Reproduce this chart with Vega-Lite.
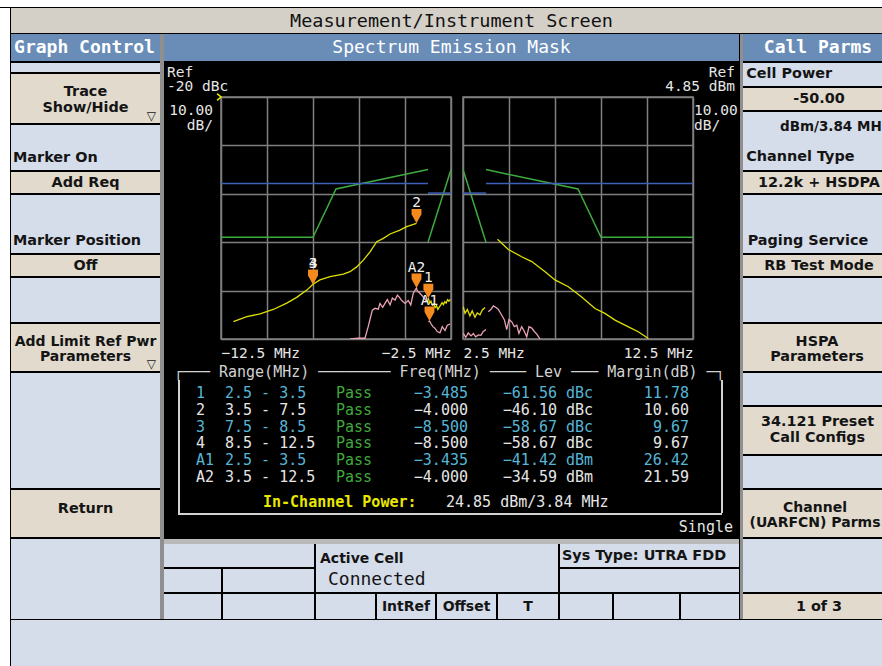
{
"$schema": "https://vega.github.io/schema/vega-lite/v6.json",
"background": "#000000",
"padding": 0,
"spacing": 1,
"config": {
  "view": {"stroke": null},
  "text": {"font": "DejaVu Sans", "fontWeight": "bold", "fontSize": 14.4, "color": "#141414", "baseline": "middle", "lineBreak": "\n"},
  "axis": {"ticks": false, "domain": false, "grid": true, "gridColor": "#7f7f7f", "gridWidth": 1.5, "labelFont": "DejaVu Sans Mono", "labelFontSize": 14.5, "labelColor": "#e6e6e6", "labelPadding": 7, "labelOverlap": false, "labelFlush": true, "title": null}
},
"datasets": {
  "results": [
    {"id": "1", "range": "2.5 - 3.5", "result": "Pass", "freq": -3.485, "lev": -61.56, "unit": "dBc", "margin": 11.78},
    {"id": "2", "range": "3.5 - 7.5", "result": "Pass", "freq": -4.0, "lev": -46.1, "unit": "dBc", "margin": 10.6},
    {"id": "3", "range": "7.5 - 8.5", "result": "Pass", "freq": -8.5, "lev": -58.67, "unit": "dBc", "margin": 9.67},
    {"id": "4", "range": "8.5 - 12.5", "result": "Pass", "freq": -8.5, "lev": -58.67, "unit": "dBc", "margin": 9.67},
    {"id": "A1", "range": "2.5 - 3.5", "result": "Pass", "freq": -3.435, "lev": -41.42, "unit": "dBm", "margin": 26.42},
    {"id": "A2", "range": "3.5 - 12.5", "result": "Pass", "freq": -4.0, "lev": -34.59, "unit": "dBm", "margin": 21.59}
  ],
  "relMask": [
    {"side": "lower", "seg": 1, "f": -12.5, "dBc": -49}, {"side": "lower", "seg": 1, "f": -8.5, "dBc": -49},
    {"side": "lower", "seg": 1, "f": -7.5, "dBc": -39}, {"side": "lower", "seg": 1, "f": -3.5, "dBc": -35},
    {"side": "lower", "seg": 2, "f": -3.5, "dBc": -50}, {"side": "lower", "seg": 2, "f": -2.5, "dBc": -35},
    {"side": "upper", "seg": 1, "f": 2.5, "dBc": -35}, {"side": "upper", "seg": 1, "f": 3.5, "dBc": -50},
    {"side": "upper", "seg": 2, "f": 3.5, "dBc": -35}, {"side": "upper", "seg": 2, "f": 7.5, "dBc": -39},
    {"side": "upper", "seg": 2, "f": 8.5, "dBc": -49}, {"side": "upper", "seg": 2, "f": 12.5, "dBc": -49}
  ],
  "absMask": [
    {"side": "lower", "seg": 1, "f": -12.5, "dBm": -13}, {"side": "lower", "seg": 1, "f": -3.5, "dBm": -13},
    {"side": "lower", "seg": 2, "f": -3.5, "dBm": -15}, {"side": "lower", "seg": 2, "f": -2.5, "dBm": -15},
    {"side": "upper", "seg": 1, "f": 2.5, "dBm": -15}, {"side": "upper", "seg": 1, "f": 3.5, "dBm": -15},
    {"side": "upper", "seg": 2, "f": 3.5, "dBm": -13}, {"side": "upper", "seg": 2, "f": 12.5, "dBm": -13}
  ],
  "relTrace": [
    {"side": "lower", "seg": 1, "f": -11.96, "dBc": -66.4}, {"side": "lower", "seg": 1, "f": -11.38, "dBc": -65.4},
    {"side": "lower", "seg": 1, "f": -10.8, "dBc": -64.8}, {"side": "lower", "seg": 1, "f": -10.23, "dBc": -63.9},
    {"side": "lower", "seg": 1, "f": -9.64, "dBc": -62.6}, {"side": "lower", "seg": 1, "f": -9.21, "dBc": -61.4},
    {"side": "lower", "seg": 1, "f": -8.77, "dBc": -59.9}, {"side": "lower", "seg": 1, "f": -8.5, "dBc": -58.67},
    {"side": "lower", "seg": 1, "f": -8.2, "dBc": -57.8}, {"side": "lower", "seg": 1, "f": -7.76, "dBc": -57.1},
    {"side": "lower", "seg": 1, "f": -7.18, "dBc": -56.6}, {"side": "lower", "seg": 1, "f": -6.89, "dBc": -56.1},
    {"side": "lower", "seg": 1, "f": -6.6, "dBc": -55.1}, {"side": "lower", "seg": 1, "f": -6.31, "dBc": -53.7},
    {"side": "lower", "seg": 1, "f": -6.02, "dBc": -52.0}, {"side": "lower", "seg": 1, "f": -5.73, "dBc": -49.9},
    {"side": "lower", "seg": 1, "f": -5.44, "dBc": -49.2}, {"side": "lower", "seg": 1, "f": -5.15, "dBc": -48.3},
    {"side": "lower", "seg": 1, "f": -4.72, "dBc": -47.5}, {"side": "lower", "seg": 1, "f": -4.43, "dBc": -46.8},
    {"side": "lower", "seg": 1, "f": -4.0, "dBc": -46.1},
    {"side": "lower", "seg": 2, "f": -3.485, "dBc": -61.56}, {"side": "lower", "seg": 2, "f": -3.43, "dBc": -62.6},
    {"side": "lower", "seg": 2, "f": -3.37, "dBc": -62.2}, {"side": "lower", "seg": 2, "f": -3.31, "dBc": -63.0},
    {"side": "lower", "seg": 2, "f": -3.25, "dBc": -62.8}, {"side": "lower", "seg": 2, "f": -3.19, "dBc": -63.5},
    {"side": "lower", "seg": 2, "f": -3.13, "dBc": -63.1}, {"side": "lower", "seg": 2, "f": -3.07, "dBc": -63.9},
    {"side": "lower", "seg": 2, "f": -3.01, "dBc": -63.4}, {"side": "lower", "seg": 2, "f": -2.95, "dBc": -63.0},
    {"side": "lower", "seg": 2, "f": -2.89, "dBc": -62.5}, {"side": "lower", "seg": 2, "f": -2.83, "dBc": -62.9},
    {"side": "lower", "seg": 2, "f": -2.77, "dBc": -62.3}, {"side": "lower", "seg": 2, "f": -2.71, "dBc": -62.6},
    {"side": "lower", "seg": 2, "f": -2.65, "dBc": -61.9}, {"side": "lower", "seg": 2, "f": -2.59, "dBc": -62.2},
    {"side": "lower", "seg": 2, "f": -2.53, "dBc": -61.8},
    {"side": "upper", "seg": 1, "f": 2.51, "dBc": -63.3}, {"side": "upper", "seg": 1, "f": 2.59, "dBc": -64.7},
    {"side": "upper", "seg": 1, "f": 2.69, "dBc": -63.9}, {"side": "upper", "seg": 1, "f": 2.8, "dBc": -65.2},
    {"side": "upper", "seg": 1, "f": 2.9, "dBc": -64.2}, {"side": "upper", "seg": 1, "f": 3.02, "dBc": -65.5},
    {"side": "upper", "seg": 1, "f": 3.12, "dBc": -64.6}, {"side": "upper", "seg": 1, "f": 3.24, "dBc": -65.0},
    {"side": "upper", "seg": 1, "f": 3.34, "dBc": -64.0}, {"side": "upper", "seg": 1, "f": 3.46, "dBc": -63.5},
    {"side": "upper", "seg": 2, "f": 4.0, "dBc": -49.4}, {"side": "upper", "seg": 2, "f": 4.47, "dBc": -51.5},
    {"side": "upper", "seg": 2, "f": 5.05, "dBc": -53.0}, {"side": "upper", "seg": 2, "f": 5.49, "dBc": -54.0},
    {"side": "upper", "seg": 2, "f": 6.07, "dBc": -56.1}, {"side": "upper", "seg": 2, "f": 6.5, "dBc": -57.8},
    {"side": "upper", "seg": 2, "f": 7.08, "dBc": -59.2}, {"side": "upper", "seg": 2, "f": 7.66, "dBc": -61.3},
    {"side": "upper", "seg": 2, "f": 8.24, "dBc": -63.7}, {"side": "upper", "seg": 2, "f": 8.67, "dBc": -64.7},
    {"side": "upper", "seg": 2, "f": 9.11, "dBc": -66.1}, {"side": "upper", "seg": 2, "f": 9.69, "dBc": -67.5},
    {"side": "upper", "seg": 2, "f": 10.12, "dBc": -68.5}, {"side": "upper", "seg": 2, "f": 10.56, "dBc": -69.9}
  ],
  "absTrace": [
    {"side": "lower", "seg": 1, "f": -6.89, "dBm": -45.15}, {"side": "lower", "seg": 1, "f": -6.53, "dBm": -45.0},
    {"side": "lower", "seg": 1, "f": -6.24, "dBm": -45.0}, {"side": "lower", "seg": 1, "f": -6.1, "dBm": -42.6},
    {"side": "lower", "seg": 1, "f": -5.99, "dBm": -40.5}, {"side": "lower", "seg": 1, "f": -5.92, "dBm": -39.2},
    {"side": "lower", "seg": 1, "f": -5.8, "dBm": -38.8}, {"side": "lower", "seg": 1, "f": -5.66, "dBm": -39.0},
    {"side": "lower", "seg": 1, "f": -5.59, "dBm": -37.8}, {"side": "lower", "seg": 1, "f": -5.47, "dBm": -38.6},
    {"side": "lower", "seg": 1, "f": -5.37, "dBm": -37.8}, {"side": "lower", "seg": 1, "f": -5.27, "dBm": -37.0},
    {"side": "lower", "seg": 1, "f": -5.15, "dBm": -38.1}, {"side": "lower", "seg": 1, "f": -5.05, "dBm": -36.7},
    {"side": "lower", "seg": 1, "f": -4.93, "dBm": -37.1}, {"side": "lower", "seg": 1, "f": -4.83, "dBm": -36.1},
    {"side": "lower", "seg": 1, "f": -4.75, "dBm": -36.5}, {"side": "lower", "seg": 1, "f": -4.64, "dBm": -37.2},
    {"side": "lower", "seg": 1, "f": -4.5, "dBm": -37.8}, {"side": "lower", "seg": 1, "f": -4.36, "dBm": -37.2},
    {"side": "lower", "seg": 1, "f": -4.25, "dBm": -38.1}, {"side": "lower", "seg": 1, "f": -4.14, "dBm": -35.7},
    {"side": "lower", "seg": 1, "f": -4.0, "dBm": -34.59}, {"side": "lower", "seg": 1, "f": -3.97, "dBm": -35.2},
    {"side": "lower", "seg": 1, "f": -3.85, "dBm": -35.7}, {"side": "lower", "seg": 1, "f": -3.7, "dBm": -36.5},
    {"side": "lower", "seg": 1, "f": -3.55, "dBm": -37.4},
    {"side": "lower", "seg": 2, "f": -3.48, "dBm": -41.6}, {"side": "lower", "seg": 2, "f": -3.435, "dBm": -41.42},
    {"side": "lower", "seg": 2, "f": -3.38, "dBm": -41.9}, {"side": "lower", "seg": 2, "f": -3.29, "dBm": -42.6},
    {"side": "lower", "seg": 2, "f": -3.2, "dBm": -42.9}, {"side": "lower", "seg": 2, "f": -3.1, "dBm": -43.6},
    {"side": "lower", "seg": 2, "f": -2.98, "dBm": -43.9}, {"side": "lower", "seg": 2, "f": -2.88, "dBm": -42.6},
    {"side": "lower", "seg": 2, "f": -2.76, "dBm": -43.4}, {"side": "lower", "seg": 2, "f": -2.66, "dBm": -42.3},
    {"side": "lower", "seg": 2, "f": -2.54, "dBm": -42.1},
    {"side": "upper", "seg": 1, "f": 2.51, "dBm": -44.0}, {"side": "upper", "seg": 1, "f": 2.62, "dBm": -44.8},
    {"side": "upper", "seg": 1, "f": 2.73, "dBm": -43.9}, {"side": "upper", "seg": 1, "f": 2.85, "dBm": -44.5},
    {"side": "upper", "seg": 1, "f": 2.95, "dBm": -44.0}, {"side": "upper", "seg": 1, "f": 3.05, "dBm": -44.7},
    {"side": "upper", "seg": 1, "f": 3.17, "dBm": -44.3}, {"side": "upper", "seg": 1, "f": 3.28, "dBm": -44.4},
    {"side": "upper", "seg": 1, "f": 3.38, "dBm": -43.6}, {"side": "upper", "seg": 1, "f": 3.5, "dBm": -43.2},
    {"side": "upper", "seg": 2, "f": 3.6, "dBm": -39.5}, {"side": "upper", "seg": 2, "f": 3.72, "dBm": -39.0},
    {"side": "upper", "seg": 2, "f": 3.82, "dBm": -38.3}, {"side": "upper", "seg": 2, "f": 3.92, "dBm": -38.6},
    {"side": "upper", "seg": 2, "f": 4.03, "dBm": -39.0}, {"side": "upper", "seg": 2, "f": 4.18, "dBm": -40.2},
    {"side": "upper", "seg": 2, "f": 4.3, "dBm": -41.2}, {"side": "upper", "seg": 2, "f": 4.4, "dBm": -43.2},
    {"side": "upper", "seg": 2, "f": 4.5, "dBm": -41.1}, {"side": "upper", "seg": 2, "f": 4.62, "dBm": -41.6},
    {"side": "upper", "seg": 2, "f": 4.73, "dBm": -42.6}, {"side": "upper", "seg": 2, "f": 4.84, "dBm": -42.3},
    {"side": "upper", "seg": 2, "f": 4.93, "dBm": -44.0}, {"side": "upper", "seg": 2, "f": 5.05, "dBm": -42.6},
    {"side": "upper", "seg": 2, "f": 5.17, "dBm": -43.6}, {"side": "upper", "seg": 2, "f": 5.27, "dBm": -44.7},
    {"side": "upper", "seg": 2, "f": 5.37, "dBm": -42.6}, {"side": "upper", "seg": 2, "f": 5.49, "dBm": -42.9},
    {"side": "upper", "seg": 2, "f": 5.6, "dBm": -43.6}, {"side": "upper", "seg": 2, "f": 5.7, "dBm": -44.1},
    {"side": "upper", "seg": 2, "f": 5.85, "dBm": -45.15}
  ]
},
"vconcat": [
  {"width": 882, "height": 7, "view": {"fill": "#ffffff"}, "data": {"values": []}, "mark": "text"},
  {"spacing": 1, "hconcat": [
    {"width": 10, "height": 658, "view": {"fill": "#ffffff"}, "data": {"values": []}, "mark": "text"},
    {"spacing": 1, "vconcat": [
      {"width": 871, "height": 25, "view": {"fill": "#d4d0c8"},
       "data": {"values": [{"label": "Measurement/Instrument Screen"}]},
       "mark": {"type": "text", "font": "DejaVu Sans Mono", "fontWeight": "normal", "fontSize": 18.5, "color": "#111111", "dx": 5},
       "encoding": {"text": {"field": "label"}}},
      {"spacing": 0, "hconcat": [
        {"spacing": 2, "vconcat": [
          {"width": 149, "height": 27, "view": {"fill": "#6a8db8"},
           "data": {"values": [{"label": "Graph Control"}]},
           "mark": {"type": "text", "font": "DejaVu Sans Mono", "fontSize": 18, "color": "#ffffff", "dx": -1},
           "encoding": {"text": {"field": "label"}}},
          {"width": 149, "height": 9, "view": {"fill": "#d5dcea"}, "data": {"values": []}, "mark": "text"},
          {"width": 149, "height": 49, "view": {"fill": "#e1dacd"},
           "layer": [
             {"data": {"values": [{"label": "Trace\nShow/Hide"}]}, "mark": {"type": "text", "lineHeight": 16.6, "dy": -6.8}, "encoding": {"text": {"field": "label"}}},
             {"data": {"values": [{"glyph": "▽"}]}, "mark": {"type": "text", "align": "right", "fontWeight": "normal", "fontSize": 12, "dx": -4, "dy": 17.5},
              "encoding": {"x": {"datum": 1, "type": "quantitative", "scale": {"domain": [0, 1]}, "axis": null}, "text": {"field": "glyph"}}}
           ]},
          {"width": 149, "height": 45, "view": {"fill": "#d5dcea"},
           "data": {"values": [{"label": "Marker On"}]},
           "mark": {"type": "text", "align": "left", "dx": 2, "dy": 10.5},
           "encoding": {"x": {"datum": 0, "type": "quantitative", "scale": {"domain": [0, 1]}, "axis": null}, "text": {"field": "label"}}},
          {"width": 149, "height": 21, "view": {"fill": "#e1dacd"},
           "data": {"values": [{"label": "Add Req"}]}, "mark": {"type": "text", "dy": 0.5}, "encoding": {"text": {"field": "label"}}},
          {"width": 149, "height": 58, "view": {"fill": "#d5dcea"},
           "data": {"values": [{"label": "Marker Position"}]},
           "mark": {"type": "text", "align": "left", "dx": 2, "dy": 16.7},
           "encoding": {"x": {"datum": 0, "type": "quantitative", "scale": {"domain": [0, 1]}, "axis": null}, "text": {"field": "label"}}},
          {"width": 149, "height": 21, "view": {"fill": "#e1dacd"},
           "data": {"values": [{"label": "Off"}]}, "mark": {"type": "text"}, "encoding": {"text": {"field": "label"}}},
          {"width": 149, "height": 44, "view": {"fill": "#d5dcea"}, "data": {"values": []}, "mark": "text"},
          {"width": 149, "height": 47, "view": {"fill": "#e1dacd"},
           "layer": [
             {"data": {"values": [{"label": "Add Limit Ref Pwr\nParameters"}]}, "mark": {"type": "text", "fontSize": 14, "lineHeight": 15.6, "dy": -5.8}, "encoding": {"text": {"field": "label"}}},
             {"data": {"values": [{"glyph": "▽"}]}, "mark": {"type": "text", "align": "right", "fontWeight": "normal", "fontSize": 12, "dx": -4, "dy": 16},
              "encoding": {"x": {"datum": 1, "type": "quantitative", "scale": {"domain": [0, 1]}, "axis": null}, "text": {"field": "glyph"}}}
           ]},
          {"width": 149, "height": 115, "view": {"fill": "#d5dcea"}, "data": {"values": []}, "mark": "text"},
          {"width": 149, "height": 47, "view": {"fill": "#e1dacd"},
           "data": {"values": [{"label": "Return"}]}, "mark": {"type": "text", "dy": -5}, "encoding": {"text": {"field": "label"}}},
          {"width": 149, "height": 80, "view": {"fill": "#d5dcea"}, "data": {"values": []}, "mark": "text"}
        ]},
        {"width": 4, "height": 585, "view": {"fill": "#8f8f8f"}, "data": {"values": []}, "mark": "text"},
        {"spacing": 0, "vconcat": [
          {"width": 575, "height": 27, "view": {"fill": "#6a8db8"},
           "data": {"values": [{"label": "Spectrum Emission Mask"}]},
           "mark": {"type": "text", "font": "DejaVu Sans Mono", "fontWeight": "normal", "fontSize": 18, "color": "#ffffff"},
           "encoding": {"text": {"field": "label"}}},
          {"columns": 5, "spacing": 0, "bounds": "flush", "concat": [
            {"width": 57, "height": 36, "data": {"values": [{"label": "Ref\n-20 dBc"}]},
             "mark": {"type": "text", "align": "left", "font": "DejaVu Sans Mono", "fontWeight": "normal", "fontSize": 14.5, "color": "#e6e6e6", "lineHeight": 14.5, "dx": 3, "dy": -6.5},
             "encoding": {"x": {"datum": 0, "type": "quantitative", "scale": {"domain": [0, 1]}, "axis": null}, "text": {"field": "label"}}},
            {"width": 230, "height": 36, "data": {"values": []}, "mark": "text"},
            {"width": 12, "height": 36, "data": {"values": []}, "mark": "text"},
            {"width": 230, "height": 36, "data": {"values": []}, "mark": "text"},
            {"width": 46, "height": 36, "data": {"values": [{"label": "Ref\n4.85 dBm"}]},
             "mark": {"type": "text", "align": "right", "font": "DejaVu Sans Mono", "fontWeight": "normal", "fontSize": 14.5, "color": "#e6e6e6", "lineHeight": 14.5, "dx": -4, "dy": -6.5},
             "encoding": {"x": {"datum": 1, "type": "quantitative", "scale": {"domain": [0, 1]}, "axis": null}, "text": {"field": "label"}}},
            {"width": 57, "height": 242, "data": {"values": [{"label": "10.00\ndB/"}]},
             "mark": {"type": "text", "align": "right", "baseline": "top", "font": "DejaVu Sans Mono", "fontWeight": "normal", "fontSize": 14.5, "color": "#e6e6e6", "lineHeight": 15, "dx": -8, "dy": 7},
             "encoding": {"x": {"datum": 1, "type": "quantitative", "scale": {"domain": [0, 1]}, "axis": null},
                          "y": {"datum": 1, "type": "quantitative", "scale": {"domain": [0, 1]}, "axis": null},
                          "text": {"field": "label"}}},
            {"width": 230, "height": 242, "view": {"stroke": "#7f7f7f", "strokeWidth": 1.5},
             "resolve": {"scale": {"y": "independent"}},
             "layer": [
               {"layer": [
                 {"data": {"name": "relMask"}, "transform": [{"filter": "datum.side == 'lower'"}],
                  "mark": {"type": "line", "color": "#3fab3f", "strokeWidth": 1.5, "clip": true},
                  "encoding": {
                    "x": {"field": "f", "type": "quantitative", "scale": {"domain": [-12.5, -2.5], "nice": false},
                          "axis": {"values": [-12.5, -10.5, -8.5, -6.5, -4.5, -2.5], "labelExpr": "datum.value == -12.5 || datum.value == -2.5 ? format(datum.value, '.1f') + ' MHz' : ''"}},
                    "y": {"field": "dBc", "type": "quantitative", "scale": {"domain": [-70, -20], "nice": false},
                          "axis": {"values": [-70, -60, -50, -40, -30, -20], "labels": false}},
                    "detail": {"field": "seg"}}},
                 {"data": {"name": "relTrace"}, "transform": [{"filter": "datum.side == 'lower'"}],
                  "mark": {"type": "line", "color": "#e0e000", "strokeWidth": 1.3, "clip": true},
                  "encoding": {"x": {"field": "f", "type": "quantitative"}, "y": {"field": "dBc", "type": "quantitative"}, "detail": {"field": "seg"}}},
                 {"data": {"name": "results"}, "transform": [{"filter": "datum.unit == 'dBc'"}],
                  "mark": {"type": "point", "shape": "M-0.55,-1.6L0.55,-1.6L0.55,-1L0,0L-0.55,-1Z", "size": 324, "filled": true, "color": "#f58b1f", "opacity": 1},
                  "encoding": {"x": {"field": "freq", "type": "quantitative"}, "y": {"field": "lev", "type": "quantitative"}}},
                 {"data": {"name": "results"}, "transform": [{"filter": "datum.unit == 'dBc'"}],
                  "mark": {"type": "text", "font": "DejaVu Sans Mono", "fontWeight": "normal", "fontSize": 14.5, "color": "#f0f0f0", "dy": -20},
                  "encoding": {"x": {"field": "freq", "type": "quantitative"}, "y": {"field": "lev", "type": "quantitative"}, "text": {"field": "id"}}},
                 {"data": {"values": [{"f": -12.5, "ref": -20}]},
                  "mark": {"type": "point", "shape": "M-1.3,-1.1L0,0L-1.3,1.1", "size": 36, "filled": false, "color": "#e6e600", "strokeWidth": 1.6, "opacity": 1},
                  "encoding": {"x": {"field": "f", "type": "quantitative"}, "y": {"field": "ref", "type": "quantitative"}}}
               ]},
               {"layer": [
                 {"data": {"name": "absMask"}, "transform": [{"filter": "datum.side == 'lower'"}],
                  "mark": {"type": "line", "color": "#3d60b8", "strokeWidth": 1.5, "clip": true},
                  "encoding": {"x": {"field": "f", "type": "quantitative"}, "y": {"field": "dBm", "type": "quantitative", "scale": {"domain": [-45.15, 4.85], "nice": false}, "axis": null}, "detail": {"field": "seg"}}},
                 {"data": {"name": "absTrace"}, "transform": [{"filter": "datum.side == 'lower'"}],
                  "mark": {"type": "line", "color": "#eaa2b4", "strokeWidth": 1.3, "clip": true},
                  "encoding": {"x": {"field": "f", "type": "quantitative"}, "y": {"field": "dBm", "type": "quantitative", "axis": null}, "detail": {"field": "seg"}}},
                 {"data": {"name": "results"}, "transform": [{"filter": "datum.unit == 'dBm'"}],
                  "mark": {"type": "point", "shape": "M-0.55,-1.6L0.55,-1.6L0.55,-1L0,0L-0.55,-1Z", "size": 324, "filled": true, "color": "#f58b1f", "opacity": 1},
                  "encoding": {"x": {"field": "freq", "type": "quantitative"}, "y": {"field": "lev", "type": "quantitative", "axis": null}}},
                 {"data": {"name": "results"}, "transform": [{"filter": "datum.unit == 'dBm'"}],
                  "mark": {"type": "text", "font": "DejaVu Sans Mono", "fontWeight": "normal", "fontSize": 14.5, "color": "#f0f0f0", "dy": -20},
                  "encoding": {"x": {"field": "freq", "type": "quantitative"}, "y": {"field": "lev", "type": "quantitative", "axis": null}, "text": {"field": "id"}}}
               ]}
             ]},
            {"width": 12, "height": 242, "data": {"values": []}, "mark": "text"},
            {"width": 230, "height": 242, "view": {"stroke": "#7f7f7f", "strokeWidth": 1.5},
             "resolve": {"scale": {"y": "independent"}},
             "layer": [
               {"layer": [
                 {"data": {"name": "relMask"}, "transform": [{"filter": "datum.side == 'upper'"}],
                  "mark": {"type": "line", "color": "#3fab3f", "strokeWidth": 1.5, "clip": true},
                  "encoding": {
                    "x": {"field": "f", "type": "quantitative", "scale": {"domain": [2.5, 12.5], "nice": false},
                          "axis": {"values": [2.5, 4.5, 6.5, 8.5, 10.5, 12.5], "labelExpr": "datum.value == 2.5 || datum.value == 12.5 ? format(datum.value, '.1f') + ' MHz' : ''"}},
                    "y": {"field": "dBc", "type": "quantitative", "scale": {"domain": [-70, -20], "nice": false},
                          "axis": {"orient": "right", "values": [-70, -60, -50, -40, -30, -20], "labels": false}},
                    "detail": {"field": "seg"}}},
                 {"data": {"name": "relTrace"}, "transform": [{"filter": "datum.side == 'upper'"}],
                  "mark": {"type": "line", "color": "#e0e000", "strokeWidth": 1.3, "clip": true},
                  "encoding": {"x": {"field": "f", "type": "quantitative"}, "y": {"field": "dBc", "type": "quantitative"}, "detail": {"field": "seg"}}}
               ]},
               {"layer": [
                 {"data": {"name": "absMask"}, "transform": [{"filter": "datum.side == 'upper'"}],
                  "mark": {"type": "line", "color": "#3d60b8", "strokeWidth": 1.5, "clip": true},
                  "encoding": {"x": {"field": "f", "type": "quantitative"}, "y": {"field": "dBm", "type": "quantitative", "scale": {"domain": [-45.15, 4.85], "nice": false}, "axis": null}, "detail": {"field": "seg"}}},
                 {"data": {"name": "absTrace"}, "transform": [{"filter": "datum.side == 'upper'"}],
                  "mark": {"type": "line", "color": "#eaa2b4", "strokeWidth": 1.3, "clip": true},
                  "encoding": {"x": {"field": "f", "type": "quantitative"}, "y": {"field": "dBm", "type": "quantitative", "axis": null}, "detail": {"field": "seg"}}}
               ]}
             ]},
            {"width": 46, "height": 242, "data": {"values": [{"label": "10.00\ndB/"}]},
             "mark": {"type": "text", "align": "left", "baseline": "top", "font": "DejaVu Sans Mono", "fontWeight": "normal", "fontSize": 14.5, "color": "#e6e6e6", "lineHeight": 15, "dx": 1, "dy": 7},
             "encoding": {"x": {"datum": 0, "type": "quantitative", "scale": {"domain": [0, 1]}, "axis": null},
                          "y": {"datum": 1, "type": "quantitative", "scale": {"domain": [0, 1]}, "axis": null},
                          "text": {"field": "label"}}},
            {"width": 57, "height": 25, "data": {"values": []}, "mark": "text"},
            {"width": 230, "height": 25, "data": {"values": []}, "mark": "text"},
            {"width": 12, "height": 25, "data": {"values": []}, "mark": "text"},
            {"width": 230, "height": 25, "data": {"values": []}, "mark": "text"},
            {"width": 46, "height": 25, "data": {"values": []}, "mark": "text"}
          ]},
          {"spacing": 0, "vconcat": [
            {"width": 575, "height": 16,
             "data": {"values": [{"label": "┌───\u00a0Range(MHz)\u00a0────────\u00a0Freq(MHz)\u00a0────\u00a0Lev\u00a0───\u00a0Margin(dB)\u00a0─┐"}]},
             "mark": {"type": "text", "align": "left", "font": "DejaVu Sans Mono", "fontWeight": "normal", "fontSize": 15, "color": "#d2d2d2", "dx": 9.8},
             "encoding": {"x": {"datum": 0, "type": "quantitative", "scale": {"domain": [0, 1]}, "axis": null}, "text": {"field": "label"}}},
            {"spacing": 0, "hconcat": [
              {"width": 14, "height": 133, "data": {"values": []}, "mark": "text"},
              {"width": 2, "height": 133, "view": {"fill": "#d2d2d2"}, "data": {"values": []}, "mark": "text"},
              {"spacing": 0, "vconcat": [
                {"spacing": 0, "hconcat": [
                  {"width": 16, "height": 110, "data": {"values": []}, "mark": "text"},
                  {"width": 29, "height": 110, "data": {"name": "results"},
                   "mark": {"type": "text", "align": "left", "font": "DejaVu Sans Mono", "fontWeight": "normal", "fontSize": 15},
                   "encoding": {"x": {"datum": 0, "type": "quantitative", "scale": {"domain": [0, 1]}, "axis": null},
                                "y": {"field": "id", "type": "nominal", "scale": {"type": "point", "domain": ["1", "2", "3", "4", "A1", "A2"], "padding": 0.8}, "axis": null},
                                "text": {"field": "id"},
                                "color": {"field": "id", "type": "nominal", "scale": {"domain": ["1", "2", "3", "4", "A1", "A2"], "range": ["#56b6d6", "#e6e6e6", "#56b6d6", "#e6e6e6", "#56b6d6", "#e6e6e6"]}, "legend": null}}},
                  {"width": 111, "height": 110, "data": {"name": "results"},
                   "mark": {"type": "text", "align": "left", "font": "DejaVu Sans Mono", "fontWeight": "normal", "fontSize": 15},
                   "encoding": {"x": {"datum": 0, "type": "quantitative", "scale": {"domain": [0, 1]}, "axis": null},
                                "y": {"field": "id", "type": "nominal", "scale": {"type": "point", "domain": ["1", "2", "3", "4", "A1", "A2"], "padding": 0.8}, "axis": null},
                                "text": {"field": "range"},
                                "color": {"field": "id", "type": "nominal", "scale": {"domain": ["1", "2", "3", "4", "A1", "A2"], "range": ["#56b6d6", "#e6e6e6", "#56b6d6", "#e6e6e6", "#56b6d6", "#e6e6e6"]}, "legend": null}}},
                  {"width": 77, "height": 110, "data": {"name": "results"},
                   "mark": {"type": "text", "align": "left", "font": "DejaVu Sans Mono", "fontWeight": "normal", "fontSize": 15, "color": "#3fa93a"},
                   "encoding": {"x": {"datum": 0, "type": "quantitative", "scale": {"domain": [0, 1]}, "axis": null},
                                "y": {"field": "id", "type": "nominal", "scale": {"type": "point", "domain": ["1", "2", "3", "4", "A1", "A2"], "padding": 0.8}, "axis": null},
                                "text": {"field": "result"}}},
                  {"width": 54, "height": 110, "data": {"name": "results"},
                   "mark": {"type": "text", "align": "right", "font": "DejaVu Sans Mono", "fontWeight": "normal", "fontSize": 15},
                   "encoding": {"x": {"datum": 1, "type": "quantitative", "scale": {"domain": [0, 1]}, "axis": null},
                                "y": {"field": "id", "type": "nominal", "scale": {"type": "point", "domain": ["1", "2", "3", "4", "A1", "A2"], "padding": 0.8}, "axis": null},
                                "text": {"field": "freq", "type": "quantitative", "format": ".3f"},
                                "color": {"field": "id", "type": "nominal", "scale": {"domain": ["1", "2", "3", "4", "A1", "A2"], "range": ["#56b6d6", "#e6e6e6", "#56b6d6", "#e6e6e6", "#56b6d6", "#e6e6e6"]}, "legend": null}}},
                  {"width": 125, "height": 110, "data": {"name": "results"},
                   "layer": [
                     {"mark": {"type": "text", "align": "right", "font": "DejaVu Sans Mono", "fontWeight": "normal", "fontSize": 15, "dx": -36},
                      "encoding": {"x": {"datum": 1, "type": "quantitative", "scale": {"domain": [0, 1]}, "axis": null},
                                   "y": {"field": "id", "type": "nominal", "scale": {"type": "point", "domain": ["1", "2", "3", "4", "A1", "A2"], "padding": 0.8}, "axis": null},
                                   "text": {"field": "lev", "type": "quantitative", "format": ".2f"},
                                   "color": {"field": "id", "type": "nominal", "scale": {"domain": ["1", "2", "3", "4", "A1", "A2"], "range": ["#56b6d6", "#e6e6e6", "#56b6d6", "#e6e6e6", "#56b6d6", "#e6e6e6"]}, "legend": null}}},
                     {"mark": {"type": "text", "align": "right", "font": "DejaVu Sans Mono", "fontWeight": "normal", "fontSize": 15},
                      "encoding": {"x": {"datum": 1, "type": "quantitative", "scale": {"domain": [0, 1]}, "axis": null},
                                   "y": {"field": "id", "type": "nominal", "scale": {"type": "point", "domain": ["1", "2", "3", "4", "A1", "A2"], "padding": 0.8}, "axis": null},
                                   "text": {"field": "unit"},
                                   "color": {"field": "id", "type": "nominal", "scale": {"domain": ["1", "2", "3", "4", "A1", "A2"], "range": ["#56b6d6", "#e6e6e6", "#56b6d6", "#e6e6e6", "#56b6d6", "#e6e6e6"]}, "legend": null}}}
                   ]},
                  {"width": 96, "height": 110, "data": {"name": "results"},
                   "mark": {"type": "text", "align": "right", "font": "DejaVu Sans Mono", "fontWeight": "normal", "fontSize": 15},
                   "encoding": {"x": {"datum": 1, "type": "quantitative", "scale": {"domain": [0, 1]}, "axis": null},
                                "y": {"field": "id", "type": "nominal", "scale": {"type": "point", "domain": ["1", "2", "3", "4", "A1", "A2"], "padding": 0.8}, "axis": null},
                                "text": {"field": "margin", "type": "quantitative", "format": ".2f"},
                                "color": {"field": "id", "type": "nominal", "scale": {"domain": ["1", "2", "3", "4", "A1", "A2"], "range": ["#56b6d6", "#e6e6e6", "#56b6d6", "#e6e6e6", "#56b6d6", "#e6e6e6"]}, "legend": null}}},
                  {"width": 32, "height": 110, "data": {"values": []}, "mark": "text"}
                ]},
                {"spacing": 0, "hconcat": [
                  {"width": 83, "height": 23, "data": {"values": []}, "mark": "text"},
                  {"width": 183, "height": 23, "data": {"values": [{"label": "In-Channel Power:"}]},
                   "mark": {"type": "text", "align": "left", "font": "DejaVu Sans Mono", "fontWeight": "bold", "fontSize": 15, "color": "#e8e800"},
                   "encoding": {"x": {"datum": 0, "type": "quantitative", "scale": {"domain": [0, 1]}, "axis": null}, "text": {"field": "label"}}},
                  {"width": 274, "height": 23, "data": {"values": [{"label": "24.85 dBm/3.84 MHz"}]},
                   "mark": {"type": "text", "align": "left", "font": "DejaVu Sans Mono", "fontWeight": "normal", "fontSize": 15, "color": "#e6e6e6"},
                   "encoding": {"x": {"datum": 0, "type": "quantitative", "scale": {"domain": [0, 1]}, "axis": null}, "text": {"field": "label"}}}
                ]}
              ]},
              {"width": 2, "height": 133, "view": {"fill": "#d2d2d2"}, "data": {"values": []}, "mark": "text"},
              {"width": 17, "height": 133, "data": {"values": []}, "mark": "text"}
            ]},
            {"spacing": 0, "hconcat": [
              {"width": 14, "height": 2, "data": {"values": []}, "mark": "text"},
              {"width": 544, "height": 2, "view": {"fill": "#d2d2d2"}, "data": {"values": []}, "mark": "text"},
              {"width": 17, "height": 2, "data": {"values": []}, "mark": "text"}
            ]},
            {"width": 575, "height": 24, "data": {"values": [{"label": "Single"}]},
             "mark": {"type": "text", "align": "right", "font": "DejaVu Sans Mono", "fontWeight": "normal", "fontSize": 15, "color": "#e6e6e6", "dx": -6},
             "encoding": {"x": {"datum": 1, "type": "quantitative", "scale": {"domain": [0, 1]}, "axis": null}, "text": {"field": "label"}}}
          ]},
          {"width": 575, "height": 5, "view": {"fill": "#b9b9b9"}, "data": {"values": []}, "mark": "text"},
          {"spacing": 2, "vconcat": [
            {"spacing": 2, "hconcat": [
              {"spacing": 2, "vconcat": [
                {"width": 150, "height": 23, "view": {"fill": "#d5dcea"}, "data": {"values": []}, "mark": "text"},
                {"spacing": 2, "hconcat": [
                  {"width": 57, "height": 23, "view": {"fill": "#d5dcea"}, "data": {"values": []}, "mark": "text"},
                  {"width": 91, "height": 23, "view": {"fill": "#d5dcea"}, "data": {"values": []}, "mark": "text"}
                ]}
              ]},
              {"width": 242, "height": 48, "view": {"fill": "#d5dcea"},
               "layer": [
                 {"data": {"values": [{"label": "Active Cell"}]}, "mark": {"type": "text", "align": "left", "fontSize": 14, "dx": 4, "dy": -8.7},
                  "encoding": {"x": {"datum": 0, "type": "quantitative", "scale": {"domain": [0, 1]}, "axis": null}, "text": {"field": "label"}}},
                 {"data": {"values": [{"label": "Connected"}]}, "mark": {"type": "text", "align": "left", "font": "DejaVu Sans Mono", "fontWeight": "normal", "fontSize": 18, "dx": 12, "dy": 12},
                  "encoding": {"x": {"datum": 0, "type": "quantitative", "scale": {"domain": [0, 1]}, "axis": null}, "text": {"field": "label"}}}
               ]},
              {"spacing": 2, "vconcat": [
                {"width": 179, "height": 23, "view": {"fill": "#d5dcea"},
                 "data": {"values": [{"label": "Sys Type: UTRA FDD"}]}, "mark": {"type": "text", "align": "left", "dx": 2},
                 "encoding": {"x": {"datum": 0, "type": "quantitative", "scale": {"domain": [0, 1]}, "axis": null}, "text": {"field": "label"}}},
                {"width": 179, "height": 23, "view": {"fill": "#d5dcea"}, "data": {"values": []}, "mark": "text"}
              ]}
            ]},
            {"spacing": 2, "hconcat": [
              {"width": 57, "height": 25, "view": {"fill": "#d5dcea"}, "data": {"values": []}, "mark": "text"},
              {"width": 91, "height": 25, "view": {"fill": "#d5dcea"}, "data": {"values": []}, "mark": "text"},
              {"width": 59, "height": 25, "view": {"fill": "#d5dcea"}, "data": {"values": []}, "mark": "text"},
              {"width": 58, "height": 25, "view": {"fill": "#d5dcea"}, "data": {"values": [{"label": "IntRef"}]}, "mark": {"type": "text", "fontSize": 14}, "encoding": {"text": {"field": "label"}}},
              {"width": 59, "height": 25, "view": {"fill": "#d5dcea"}, "data": {"values": [{"label": "Offset"}]}, "mark": {"type": "text", "fontSize": 14}, "encoding": {"text": {"field": "label"}}},
              {"width": 60, "height": 25, "view": {"fill": "#d5dcea"}, "data": {"values": [{"label": "T"}]}, "mark": {"type": "text", "fontSize": 14}, "encoding": {"text": {"field": "label"}}},
              {"width": 52, "height": 25, "view": {"fill": "#d5dcea"}, "data": {"values": []}, "mark": "text"},
              {"width": 65, "height": 25, "view": {"fill": "#d5dcea"}, "data": {"values": []}, "mark": "text"},
              {"width": 58, "height": 25, "view": {"fill": "#d5dcea"}, "data": {"values": []}, "mark": "text"}
            ]}
          ]}
        ]},
        {"width": 3, "height": 585, "view": {"fill": "#8f8f8f"}, "data": {"values": []}, "mark": "text"},
        {"spacing": 2, "vconcat": [
          {"width": 140, "height": 27, "view": {"fill": "#6a8db8"},
           "data": {"values": [{"label": "Call Parms"}]},
           "mark": {"type": "text", "font": "DejaVu Sans Mono", "fontSize": 18, "color": "#ffffff", "dx": 5},
           "encoding": {"text": {"field": "label"}}},
          {"width": 140, "height": 23, "view": {"fill": "#d5dcea"},
           "data": {"values": [{"label": "Cell Power"}]}, "mark": {"type": "text", "align": "left", "dx": 3.3, "dy": -0.5},
           "encoding": {"x": {"datum": 0, "type": "quantitative", "scale": {"domain": [0, 1]}, "axis": null}, "text": {"field": "label"}}},
          {"width": 140, "height": 22, "view": {"fill": "#e1dacd"},
           "data": {"values": [{"label": "-50.00"}]}, "mark": {"type": "text", "dx": 6}, "encoding": {"text": {"field": "label"}}},
          {"width": 140, "height": 58, "view": {"fill": "#d5dcea"},
           "layer": [
             {"data": {"values": [{"label": "dBm/3.84 MHz"}]}, "mark": {"type": "text", "align": "left", "fontSize": 13.5, "dx": 37, "dy": -14.3, "limit": 104, "ellipsis": "\u200b"},
              "encoding": {"x": {"datum": 0, "type": "quantitative", "scale": {"domain": [0, 1]}, "axis": null}, "text": {"field": "label"}}},
             {"data": {"values": [{"label": "Channel Type"}]}, "mark": {"type": "text", "align": "left", "dx": 3.3, "dy": 15.7},
              "encoding": {"x": {"datum": 0, "type": "quantitative", "scale": {"domain": [0, 1]}, "axis": null}, "text": {"field": "label"}}}
           ]},
          {"width": 140, "height": 21, "view": {"fill": "#e1dacd"},
           "data": {"values": [{"label": "12.2k + HSDPA"}]}, "mark": {"type": "text", "dx": 6, "dy": 0.5}, "encoding": {"text": {"field": "label"}}},
          {"width": 140, "height": 58, "view": {"fill": "#d5dcea"},
           "data": {"values": [{"label": "Paging Service"}]}, "mark": {"type": "text", "align": "left", "dx": 4.7, "dy": 16.7},
           "encoding": {"x": {"datum": 0, "type": "quantitative", "scale": {"domain": [0, 1]}, "axis": null}, "text": {"field": "label"}}},
          {"width": 140, "height": 21, "view": {"fill": "#e1dacd"},
           "data": {"values": [{"label": "RB Test Mode"}]}, "mark": {"type": "text", "dx": 6}, "encoding": {"text": {"field": "label"}}},
          {"width": 140, "height": 44, "view": {"fill": "#d5dcea"}, "data": {"values": []}, "mark": "text"},
          {"width": 140, "height": 47, "view": {"fill": "#e1dacd"},
           "data": {"values": [{"label": "HSPA\nParameters"}]}, "mark": {"type": "text", "lineHeight": 15, "dx": 4, "dy": -5.8}, "encoding": {"text": {"field": "label"}}},
          {"width": 140, "height": 32, "view": {"fill": "#d5dcea"}, "data": {"values": []}, "mark": "text"},
          {"width": 140, "height": 47, "view": {"fill": "#e1dacd"},
           "data": {"values": [{"label": "34.121 Preset\nCall Configs"}]}, "mark": {"type": "text", "lineHeight": 16, "dx": 4.5, "dy": -8.5}, "encoding": {"text": {"field": "label"}}},
          {"width": 140, "height": 32, "view": {"fill": "#d5dcea"}, "data": {"values": []}, "mark": "text"},
          {"width": 140, "height": 47, "view": {"fill": "#e1dacd"},
           "data": {"values": [{"label": "Channel\n(UARFCN) Parms"}]}, "mark": {"type": "text", "lineHeight": 15, "fontSize": 14, "dx": 2, "dy": -5.2}, "encoding": {"text": {"field": "label"}}},
          {"width": 140, "height": 53, "view": {"fill": "#d5dcea"}, "data": {"values": []}, "mark": "text"},
          {"width": 140, "height": 25, "view": {"fill": "#e1dacd"},
           "data": {"values": [{"label": "1 of 3"}]}, "mark": {"type": "text", "dx": 6}, "encoding": {"text": {"field": "label"}}}
        ]}
      ]},
      {"width": 871, "height": 46, "view": {"fill": "#d5dcea"}, "data": {"values": []}, "mark": "text"}
    ]}
  ]}
]
}
